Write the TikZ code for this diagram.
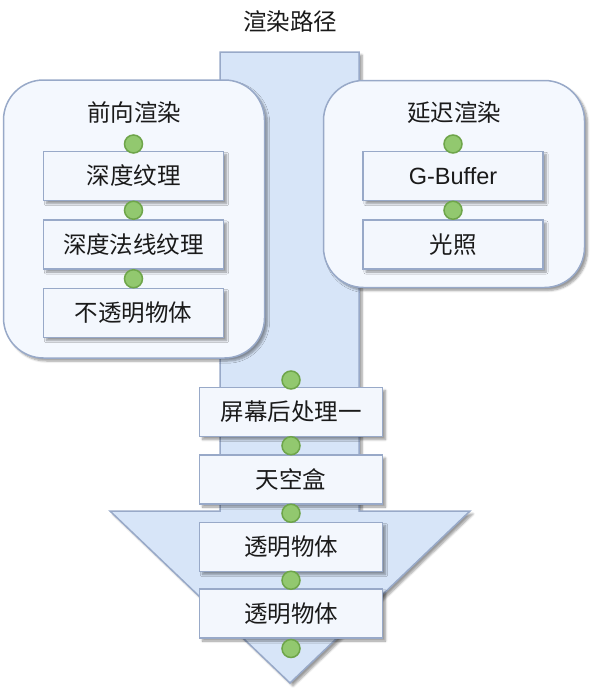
\documentclass[tikz,border=0pt]{standalone}
\usepackage{fontspec}
\setmainfont{Noto Sans CJK SC}
\newfontfamily\latinfont{Liberation Sans}
\usetikzlibrary{positioning, calc, shadows.blur}

\definecolor{pathfill}{HTML}{D7E5F8}
\definecolor{edgeblue}{HTML}{98A9C8}
\definecolor{groupfill}{HTML}{F4F8FE}
\definecolor{boxfill}{HTML}{F3F7FD}
\definecolor{dotfill}{HTML}{92C86F}
\definecolor{dotedge}{HTML}{6EA54A}
\definecolor{inkgray}{HTML}{1A1A1A}

\begin{document}
\begin{tikzpicture}[x=1pt, y=-1pt, node distance=18pt, every node/.style={font=\fontsize{23.5}{27}\selectfont, text=inkgray}]
\useasboundingbox (0,0) rectangle (596,697);

% Styles
\tikzstyle{shade} = [blur shadow={shadow xshift=3pt, shadow yshift=-3pt, shadow opacity=40, shadow blur steps=6}]
\tikzstyle{group} = [shade, draw=edgeblue, line width=1.5pt, fill=groupfill, rounded corners=40pt, inner sep=0pt]
\tikzstyle{stepbox} = [shade, draw=edgeblue, line width=1.5pt, fill=boxfill, minimum width=180pt, minimum height=49pt, inner sep=0pt]
\tikzstyle{dot} = [circle, draw=dotedge, line width=1.5pt, fill=dotfill, minimum size=18pt, inner sep=0pt]

% Title
\node (title) at (290,22) {渲染路径};

% Big arrow
\draw[shade, draw=edgeblue, line width=1.5pt, fill=pathfill]
  (220,52) -- (359,52) -- (359,511) -- (470,511) -- (290,683) -- (110,511) -- (220,511) -- cycle;

% Groups
\node[group, minimum width=261pt, minimum height=278pt] (fwd) at (134,219) {};
\node[group, minimum width=261pt, minimum height=207pt] (dfr) at (454,184) {};
\node (fwdtitle) at (134,113) {前向渲染};
\node (dfrtitle) at (454,113) {延迟渲染};

% Forward steps
\node[stepbox] (depth) at (133.5,176) {深度纹理};
\node[stepbox, below=of depth] (normal) {深度法线纹理};
\node[stepbox, below=of normal] (opaque) {不透明物体};

% Deferred steps
\node[stepbox] (gbuf) at (453,176) {\latinfont G-Buffer};
\node[stepbox, below=of gbuf] (light) {光照};

% Path steps
\node[stepbox, node distance=17pt, minimum width=183pt] (post) at (291,412) {屏幕后处理一};
\node[stepbox, node distance=17pt, minimum width=183pt, below=of post] (sky) {天空盒};
\node[stepbox, node distance=17pt, minimum width=183pt, below=of sky] (trans) {透明物体};
\node[stepbox, node distance=16pt, minimum width=183pt, below=of trans] (trans2) {透明物体};

% Dots
\node[dot, above=-3pt of depth] (d0) {};
\node[dot] (d1) at ($(depth.south)!0.5!(normal.north)$) {};
\node[dot] (d2) at ($(normal.south)!0.5!(opaque.north)$) {};
\node[dot, above=-3pt of gbuf] (g0) {};
\node[dot] (g1) at ($(gbuf.south)!0.5!(light.north)$) {};
\node[dot, above=-3pt of post] (p0) {};
\node[dot] (p1) at ($(post.south)!0.5!(sky.north)$) {};
\node[dot] (p2) at ($(sky.south)!0.5!(trans.north)$) {};
\node[dot] (p3) at ($(trans.south)!0.5!(trans2.north)$) {};
\node[dot, below=0pt of trans2] (p4) {};

\end{tikzpicture}
\end{document}
